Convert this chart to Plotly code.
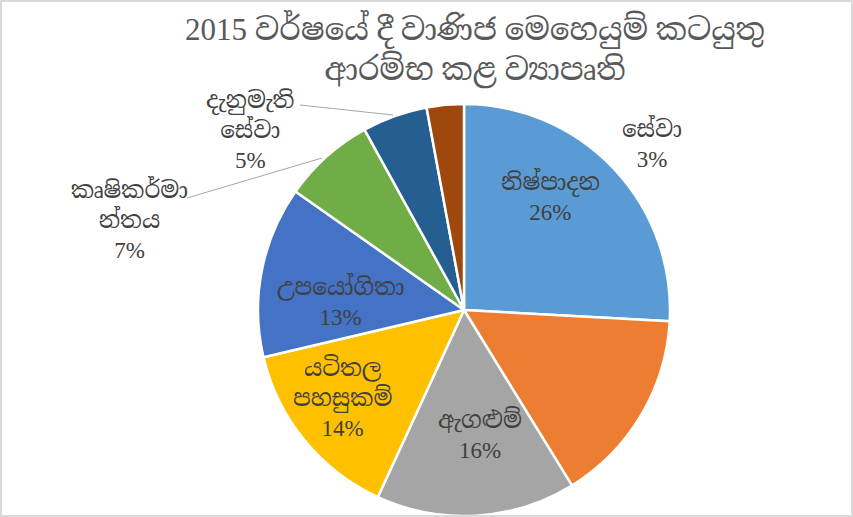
import plotly.graph_objects as go

W, H = 853, 517

# slices, clockwise from 12 o'clock (shares, in %)
labels = ["නිෂ්පාදන", "වෙනත්", "ඇගළුම්", "යටිතල පහසුකම්", "උපයෝගිතා",
          "කෘෂිකර්මාන්තය", "දැනුමැති සේවා", "සේවා"]
values = [25.8, 15.3, 15.6, 14.4, 13.4, 7.2, 5.1, 2.9]
pct_labels = ["26%", "", "16%", "14%", "13%", "7%", "5%", "3%"]
colors = ["#5B9BD5", "#ED7D31", "#A5A5A5", "#FFC000", "#4472C4",
          "#70AD47", "#255E91", "#9E480E"]
# label text as it wraps in the picture
wrapped = ["නිෂ්පාදන", "", "ඇගළුම්", "යටිතල<br>පහසුකම්", "උපයෝගිතා",
           "කෘෂිකර්මා<br>න්තය", "දැනුමැති<br>සේවා", "සේවා"]
# where each label block sits (pixels)
label_pos = [(550, 196), None, (480, 434), (342, 397), (340, 301),
             (129, 220), (250, 130), (652, 143)]

FONT = "Liberation Serif, Noto Serif Sinhala, Noto Sans Sinhala, serif"
TXT = "#404040"


def px(x, y):
    return x / W, 1 - y / H


fig = go.Figure(go.Pie(
    labels=labels,
    values=values,
    textinfo="none",
    sort=False,
    direction="clockwise",
    rotation=0,
    marker=dict(colors=colors, line=dict(color="white", width=2.5)),
    domain=dict(x=[258 / W, 670 / W], y=[1 - 516 / H, 1 - 104 / H]),
    showlegend=False,
    hoverinfo="label+percent",
))

annotations = []
for name, pct, pos in zip(wrapped, pct_labels, label_pos):
    if pos is None:
        continue
    ax_, ay_ = px(*pos)
    annotations.append(dict(text=name + "<br>" + pct, x=ax_, y=ay_,
                            xref="paper", yref="paper",
                            xanchor="center", yanchor="middle",
                            showarrow=False, font=dict(family=FONT, size=23, color=TXT),
                            align="center"))

tx, ty = px(475, 50)
annotations.append(dict(text="2015 වර්ෂයේ දී වාණිජ මෙහෙයුම් කටයුතු<br>ආරම්භ කළ ව්‍යාපෘති",
                        x=tx, y=ty, xref="paper", yref="paper", showarrow=False,
                        xanchor="center", yanchor="middle",
                        font=dict(family=FONT, size=31, color="#595959"), align="center"))

shapes = []
leaders = [((300, 105), (393, 115)), ((187, 198), (322, 158))]
for (x0, y0), (x1, y1) in leaders:
    a0, b0 = px(x0, y0)
    a1, b1 = px(x1, y1)
    shapes.append(dict(type="line", xref="paper", yref="paper", x0=a0, y0=b0, x1=a1, y1=b1,
                       line=dict(color="#A6A6A6", width=1)))
# chart frame
shapes.append(dict(type="rect", xref="paper", yref="paper", x0=1 / W, y0=1 / H,
                   x1=1 - 1 / W, y1=1 - 1 / H, line=dict(color="#D9D9D9", width=2)))

fig.update_layout(
    width=W, height=H,
    margin=dict(l=0, r=0, t=0, b=0),
    paper_bgcolor="white",
    annotations=annotations,
    shapes=shapes,
)

fig.write_html("out.html", config={"displayModeBar": False},
               post_script="document.body.style.margin='0';")
